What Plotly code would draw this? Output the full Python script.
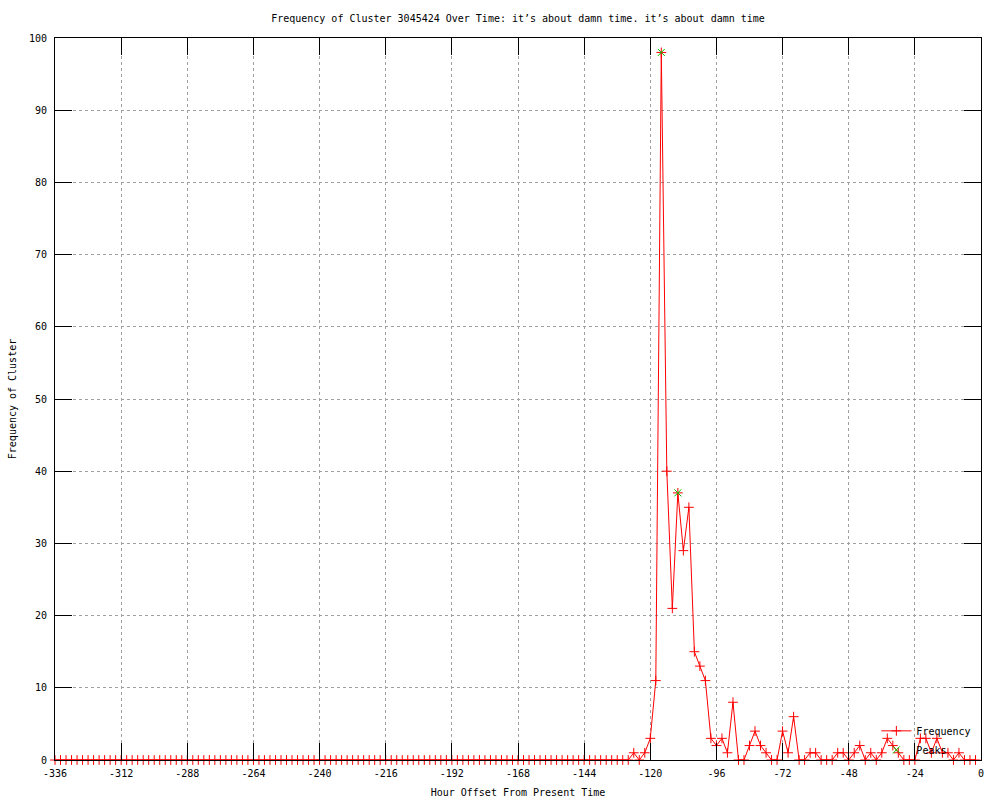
import plotly.graph_objects as go

# Hours from -336 to -2, every 2 hours
hours = list(range(-336, 0, 2))

frequency = [
    # -336 .. -290
    0, 0, 0, 0, 0, 0, 0, 0, 0, 0, 0, 0, 0, 0, 0, 0, 0, 0, 0, 0, 0, 0, 0, 0,
    # -288 .. -242
    0, 0, 0, 0, 0, 0, 0, 0, 0, 0, 0, 0, 0, 0, 0, 0, 0, 0, 0, 0, 0, 0, 0, 0,
    # -240 .. -194
    0, 0, 0, 0, 0, 0, 0, 0, 0, 0, 0, 0, 0, 0, 0, 0, 0, 0, 0, 0, 0, 0, 0, 0,
    # -192 .. -146
    0, 0, 0, 0, 0, 0, 0, 0, 0, 0, 0, 0, 0, 0, 0, 0, 0, 0, 0, 0, 0, 0, 0, 0,
    # -144 .. -98
    0, 0, 0, 0, 0, 0, 0, 0, 0, 1, 0, 1, 3, 11, 98, 40, 21, 37, 29, 35, 15, 13, 11, 3,
    # -96 .. -50
    2, 3, 1, 8, 0, 0, 2, 4, 2, 1, 0, 0, 4, 1, 6, 0, 0, 1, 1, 0, 0, 0, 1, 1,
    # -48 .. -2
    0, 1, 2, 0, 1, 0, 1, 3, 2, 1, 0, 0, 0, 3, 3, 1, 3, 1, 1, 0, 1, 0, 0, 0,
]

peak_hours = [-116, -110]
peak_values = [98, 37]

x_ticks = list(range(-336, 1, 24))
y_ticks = list(range(0, 101, 10))

FONT = "DejaVu Sans Mono"

fig = go.Figure()
fig.add_trace(go.Scatter(
    x=hours, y=frequency, name="Frequency", mode="lines+markers",
    line=dict(color="#ff0000", width=1),
    marker=dict(symbol="cross-thin", size=7, color="#ff0000",
                line=dict(color="#ff0000", width=1)),
    cliponaxis=False,
))
fig.add_trace(go.Scatter(
    x=peak_hours, y=peak_values, name="Peaks", mode="markers",
    marker=dict(symbol="x-thin", size=7, color="#00c000",
                line=dict(color="#00c000", width=1)),
    cliponaxis=False,
))

axis_common = dict(
    showline=True, linecolor="black", linewidth=1, mirror="ticks",
    ticks="inside", ticklen=17, tickcolor="black", tickwidth=1,
    showgrid=True, gridcolor="#a0a0a0", gridwidth=1, griddash="3px,3px",
    zeroline=False, automargin=False,
    tickfont=dict(family=FONT, size=10, color="black"),
)

fig.update_xaxes(
    range=[-336, 0], tickmode="array", tickvals=x_ticks,
    ticktext=[str(v) for v in x_ticks], ticklabelstandoff=4,
    title=dict(text="Hour Offset From Present Time",
               font=dict(family=FONT, size=10, color="black"), standoff=10),
    **axis_common,
)
fig.update_yaxes(
    range=[0, 100], tickmode="array", tickvals=y_ticks,
    ticktext=[str(v) for v in y_ticks], ticklabelstandoff=5,
    title=dict(text="Frequency of Cluster",
               font=dict(family=FONT, size=10, color="black"), standoff=10),
    **axis_common,
)

fig.update_layout(
    width=1000, height=800,
    margin=dict(l=55, r=19, t=38, b=40),
    paper_bgcolor="white", plot_bgcolor="white",
    font=dict(family=FONT, size=10, color="black"),
    title=dict(
        text="Frequency of Cluster 3045424 Over Time: it\u2019s about damn time. it\u2019s about damn time",
        x=0.518, xref="container", xanchor="center",
        y=1 - 18 / 800, yref="container", yanchor="middle",
        font=dict(family=FONT, size=10, color="black"),
    ),
    showlegend=True,
    legend=dict(
        x=0.995, y=-0.006, xanchor="right", yanchor="bottom",
        bgcolor="rgba(0,0,0,0)", borderwidth=0,
        font=dict(family=FONT, size=10, color="black"),
        tracegroupgap=0, itemwidth=30,
    ),
)

fig.write_html("out.html", config={"displayModeBar": False},
               post_script="document.body.style.margin='0';")
